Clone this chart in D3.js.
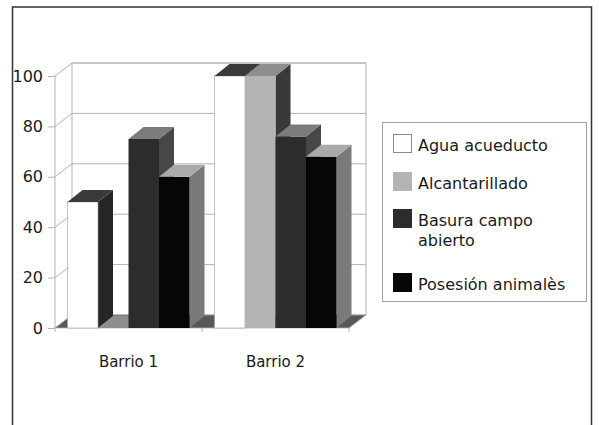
<!DOCTYPE html>
<html>
<head>
<meta charset="utf-8">
<script src="https://cdn.jsdelivr.net/npm/d3@7"></script>
<style>
  html, body { margin: 0; padding: 0; background: #fff; }
  svg { display: block; }
  text { font-family: "DejaVu Sans", sans-serif; fill: #1a1a1a; }
</style>
</head>
<body>
<svg id="chart" width="599" height="425"></svg>
<script>
// Chart data
const categories = ["Barrio 1", "Barrio 2"];
const seriesNames = ["Agua acueducto", "Alcantarillado", "Basura campo abierto", "Posesión animalès"];
const legendLines = [["Agua acueducto"], ["Alcantarillado"], ["Basura campo", "abierto"], ["Posesión animalès"]];
const aguaAcueducto = [50, 100];
const alcantarillado = [0, 100];
const basuraCampoAbierto = [75, 76];
const posesionAnimales = [60, 68];
const yTicks = [0, 20, 40, 60, 80, 100];

const seriesValues = [aguaAcueducto, alcantarillado, basuraCampoAbierto, posesionAnimales];

// Face shading per series: front, top, right side
const faceColors = [
  { front: "#ffffff", top: "#3a3a3a", side: "#262626", stroke: "#9a9a9a" },
  { front: "#b4b4b4", top: "#8e8e8e", side: "#393939", stroke: null },
  { front: "#2c2c2c", top: "#7c7c7c", side: "#474747", stroke: null },
  { front: "#060606", top: "#aaaaaa", side: "#7a7a7a", stroke: null }
];

const svg = d3.select("#chart");

// Outer frame
svg.append("rect")
  .attr("x", 12.5).attr("y", 7).attr("width", 579).attr("height", 440)
  .attr("fill", "none").attr("stroke", "#333").attr("stroke-width", 1.5);

// Front plane scales
const x0 = 55, x1 = 349;
const y = d3.scaleLinear().domain([0, 100]).range([328, 76]);
const xCat = d3.scaleBand().domain(categories).range([x0, x1])
  .paddingInner(0.17).paddingOuter(0.085);
const xSer = d3.scaleBand().domain(d3.range(seriesNames.length)).range([0, xCat.bandwidth()]);

// Depth offsets (oblique projection)
const WDX = 17, WDY = -13;   // walls / floor
const BDX = 15, BDY = -12;   // bars

const gridColor = "#b3b3b3";
const g = svg.append("g");

// Back wall
g.append("rect")
  .attr("x", x0 + WDX).attr("y", y(100) + WDY)
  .attr("width", x1 - x0).attr("height", y(0) - y(100))
  .attr("fill", "#fff").attr("stroke", gridColor).attr("stroke-width", 1);

// Gridlines: back wall and left side wall
yTicks.forEach(t => {
  g.append("line")
    .attr("x1", x0 + WDX).attr("x2", x1 + WDX)
    .attr("y1", y(t) + WDY).attr("y2", y(t) + WDY)
    .attr("stroke", gridColor);
  g.append("line")
    .attr("x1", x0).attr("x2", x0 + WDX)
    .attr("y1", y(t)).attr("y2", y(t) + WDY)
    .attr("stroke", gridColor);
});
// Left wall front edge
g.append("line")
  .attr("x1", x0).attr("x2", x0).attr("y1", y(0)).attr("y2", y(100))
  .attr("stroke", gridColor);

// Floor
g.append("path")
  .attr("d", d3.line()([[x0, y(0)], [x1, y(0)], [x1 + WDX, y(0) + WDY], [x0 + WDX, y(0) + WDY]]) + "Z")
  .attr("fill", "#585858").attr("stroke", gridColor).attr("stroke-width", 0.8);

// Category separator ticks on floor front edge
[x0, x0 + xCat.step(), x1].forEach(xx => {
  g.append("line")
    .attr("x1", xx).attr("x2", xx).attr("y1", y(0)).attr("y2", y(0) + 4)
    .attr("stroke", gridColor);
});

// Y axis labels and ticks
const yAxis = d3.axisLeft(y).tickValues(yTicks).tickSize(7).tickPadding(5);
const yAxisG = svg.append("g").attr("transform", `translate(${x0},0)`).call(yAxis);
yAxisG.select(".domain").remove();
yAxisG.selectAll(".tick line").attr("stroke", gridColor);
yAxisG.selectAll(".tick text").attr("font-size", 16).attr("fill", "#1a1a1a")
  .style("font-family", "'DejaVu Sans', sans-serif");

// Bars, drawn left to right so right neighbours cover side faces
const bars = g.append("g");
categories.forEach((cat, ci) => {
  seriesValues.forEach((vals, si) => {
    const v = vals[ci];
    const bx = xCat(cat) + xSer(si);
    const bw = xSer.bandwidth();
    const yb = y(0), yt = y(v);
    const c = faceColors[si];
    const bar = bars.append("g");
    if (v > 0) {
      // right side
      bar.append("path")
        .attr("d", d3.line()([[bx + bw, yt], [bx + bw + BDX, yt + BDY], [bx + bw + BDX, yb + BDY], [bx + bw, yb]]) + "Z")
        .attr("fill", c.side);
      // front
      bar.append("rect")
        .attr("x", bx).attr("y", yt).attr("width", bw).attr("height", yb - yt)
        .attr("fill", c.front)
        .attr("stroke", c.stroke || "none").attr("stroke-width", c.stroke ? 0.6 : 0);
    }
    // top
    bar.append("path")
      .attr("d", d3.line()([[bx, yt], [bx + bw, yt], [bx + bw + BDX, yt + BDY], [bx + BDX, yt + BDY]]) + "Z")
      .attr("fill", c.top);
  });
});

// Category labels
const xAxis = d3.axisBottom(xCat).tickSize(0).tickPadding(28);
const xAxisG = svg.append("g").attr("transform", `translate(0,${y(0)})`).call(xAxis);
xAxisG.select(".domain").remove();
xAxisG.selectAll(".tick text").attr("font-size", 15).attr("fill", "#1a1a1a")
  .style("font-family", "'DejaVu Sans', sans-serif");

// Legend
const legend = svg.append("g");
legend.append("rect")
  .attr("x", 382.5).attr("y", 122.5).attr("width", 204).attr("height", 179)
  .attr("fill", "#fff").attr("stroke", "#a0a0a0").attr("stroke-width", 1);

const swatchTops = [134, 172, 209, 273];
seriesNames.forEach((name, i) => {
  legend.append("rect")
    .attr("x", 393.5).attr("y", swatchTops[i] + 0.5).attr("width", 18).attr("height", 18)
    .attr("fill", faceColors[i].front)
    .attr("stroke", i === 0 ? "#8a8a8a" : faceColors[i].front).attr("stroke-width", 1);
  const txt = legend.append("text")
    .attr("x", 418).attr("y", swatchTops[i] + 17)
    .attr("font-size", 16);
  legendLines[i].forEach((line, li) => {
    txt.append("tspan").attr("x", 418).attr("dy", li === 0 ? 0 : 20).text(line);
  });
});
</script>
</body>
</html>
